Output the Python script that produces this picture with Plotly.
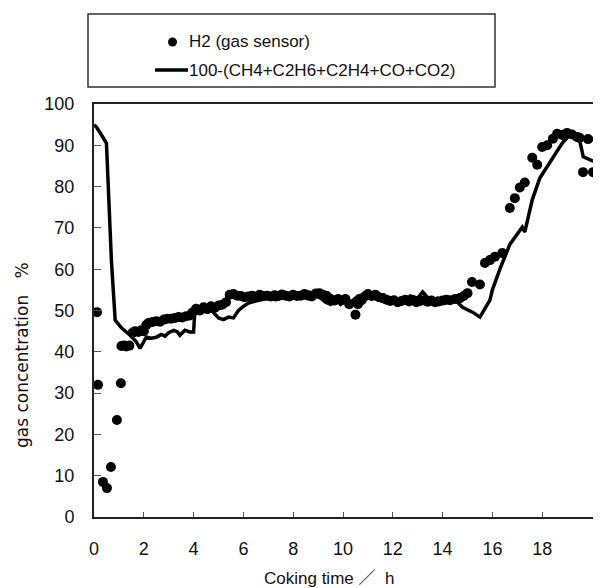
import plotly.graph_objects as go

# H2 gas sensor readings (time h, concentration %)
h2_time = [0.12, 0.16, 0.36, 0.52, 0.68, 0.92, 1.08,
           1.1, 1.2, 1.3, 1.42,
           1.55, 1.65, 1.78, 1.9, 2.0,
           2.1, 2.2, 2.35, 2.5, 2.65, 2.8, 2.95, 3.1, 3.25, 3.4, 3.55, 3.7, 3.85, 3.95,
           4.1, 4.25, 4.4, 4.55, 4.7, 4.85, 5.0, 5.15, 5.3,
           5.45, 5.6, 5.75, 5.9, 6.05, 6.2, 6.35, 6.5, 6.65, 6.8, 6.95, 7.1, 7.25, 7.4,
           7.55, 7.7, 7.85, 8.0, 8.15, 8.3, 8.45, 8.6, 8.75, 8.9, 9.05, 9.2, 9.35, 9.5,
           9.65, 9.8, 9.95, 10.1, 10.25, 10.5, 10.6, 10.75, 10.9, 11.0, 11.15, 11.3,
           11.45, 11.6, 11.75, 11.9, 12.05, 12.2, 12.35, 12.5, 12.65, 12.8, 12.95, 13.1,
           13.25, 13.4, 13.55, 13.7, 13.85, 14.0, 14.15, 14.3, 14.5, 14.7, 14.85, 15.0,
           15.18, 15.5, 15.7, 15.9, 16.1, 16.4, 16.7, 16.9, 17.1, 17.3, 17.6, 17.8,
           18.0, 18.2, 18.43, 18.6, 18.8, 19.0, 19.2, 19.4, 19.5, 19.84, 20.2,
           19.64, 20.04, 20.3]
h2_conc = [49.6, 32.0, 8.5, 7.0, 12.1, 23.5, 32.4,
           41.4, 41.5, 41.3, 41.5,
           44.6, 45.0, 44.8, 45.2, 45.0,
           46.5, 47.0, 47.2, 47.4, 47.3, 47.8, 48.0, 48.0, 48.2, 48.4, 48.3, 48.6, 48.8, 49.5,
           50.4, 50.0, 50.8, 50.3, 51.0, 50.7, 51.2, 51.4, 52.0,
           53.8, 54.0, 53.6, 53.5, 53.2, 53.4, 53.6, 53.3, 53.8, 53.5, 53.6, 53.4, 53.7, 53.5,
           53.9, 53.6, 53.4, 53.8, 53.5, 53.6, 54.0, 53.7, 53.4, 54.1, 54.2, 53.8, 53.5, 52.8,
           52.4, 52.8, 52.5, 52.8, 51.5, 49.0, 51.5, 52.5, 53.5, 54.0, 53.5, 53.8,
           53.2, 53.0, 52.6, 52.3, 52.5, 52.0, 52.3, 52.6, 52.2, 52.5, 52.0, 52.3,
           52.5, 52.1, 52.4, 52.0, 52.2, 52.4, 52.6, 52.5, 52.8, 53.0, 53.5, 54.2,
           56.9, 56.3, 61.5, 62.2, 63.0, 63.9, 74.8, 77.2, 79.8, 81.0, 87.0, 85.3,
           89.6, 90.0, 91.6, 92.8, 92.5, 93.0, 92.6, 92.0, 91.8, 91.5, 91.5,
           83.5, 83.5, 59.8]

# 100-(CH4+C2H6+C2H4+CO+CO2) (time h, concentration %)
calc_time = [0.0, 0.1, 0.35, 0.5, 0.7, 0.85, 1.1, 1.45, 1.7, 1.85, 2.1, 2.3, 2.5, 2.7,
             2.85, 3.0, 3.2, 3.35, 3.45, 3.65, 3.85, 4.0, 4.05, 4.2, 4.4, 4.6, 4.8, 5.0,
             5.2, 5.4, 5.6, 5.8, 6.0, 6.2, 6.5, 6.8, 7.0, 7.3, 7.6, 8.0, 8.3, 8.6, 8.9,
             9.1, 9.3, 9.5, 9.7, 9.9, 10.1, 10.3, 10.6, 10.9, 11.2, 11.5, 11.8, 12.1,
             12.4, 12.7, 13.0, 13.2, 13.5, 13.8, 14.0, 14.2, 14.6, 14.8, 15.2, 15.5,
             15.9, 16.0, 16.3, 16.7, 17.2, 17.3, 17.6, 17.9, 18.3, 18.8, 19.1, 19.5,
             19.65, 19.9, 20.1, 20.36]
calc_conc = [95.0, 94.4, 92.0, 90.5, 62.0, 47.7, 45.8, 44.0, 42.4, 40.8, 43.6, 43.3, 43.5, 44.2,
             43.8, 44.6, 45.2, 44.8, 44.0, 45.2, 44.8, 44.8, 50.1, 50.5, 49.8, 50.6, 49.5, 48.2,
             47.8, 48.4, 48.2, 50.0, 51.0, 51.8, 52.3, 52.8, 53.0, 52.6, 53.2, 53.0, 53.4, 52.8, 53.6,
             53.0, 52.0, 51.5, 52.8, 51.5, 52.5, 52.0, 53.5, 54.0, 53.0, 52.5, 53.0, 52.3,
             52.0, 53.5, 53.0, 54.5, 52.5, 53.0, 52.0, 52.8, 52.0, 50.8, 49.6, 48.4,
             52.5, 55.0, 60.0, 66.0, 70.2, 69.0, 76.8, 82.0, 85.7, 90.5, 92.5, 91.3,
             87.2, 86.6, 86.0, 87.2]

x_ticks = [0, 2, 4, 6, 8, 10, 12, 14, 16, 18]
y_ticks = [0, 10, 20, 30, 40, 50, 60, 70, 80, 90, 100]
legend_names = ["H2 (gas sensor)", "100-(CH4+C2H6+C2H4+CO+CO2)"]

# page body has an 8px margin; compensate so plot lands at window pixels
OFF = 8
PLOT_L, PLOT_R, PLOT_T, PLOT_B = 94, 601, 104, 517   # target window pixels
W = PLOT_R - OFF
H = 588 - OFF
L, R = PLOT_L - OFF, 0
T = PLOT_T - OFF
B = (588 - OFF) - (PLOT_B - OFF)
pw, ph = PLOT_R - PLOT_L, PLOT_B - PLOT_T

fig = go.Figure()
fig.add_trace(go.Scatter(
    x=h2_time, y=h2_conc, mode="markers", name=legend_names[0],
    marker=dict(color="black", size=10), cliponaxis=False))
fig.add_trace(go.Scatter(
    x=calc_time, y=calc_conc, mode="lines", name=legend_names[1],
    line=dict(color="black", width=3.5)))

def px2paper_x(p):
    return (p - PLOT_L) / pw

def py2paper_y(p):
    return (PLOT_B - p) / ph

# legend box drawn manually
fig.add_shape(type="rect", xref="paper", yref="paper",
              x0=px2paper_x(88), x1=px2paper_x(495),
              y0=py2paper_y(87), y1=py2paper_y(14),
              line=dict(color="#333", width=1.5), fillcolor="white", layer="below")
fig.add_shape(type="circle", xref="paper", yref="paper",
              x0=px2paper_x(168), x1=px2paper_x(177),
              y0=py2paper_y(46.5), y1=py2paper_y(37.5),
              line=dict(color="black", width=0), fillcolor="black")
fig.add_shape(type="line", xref="paper", yref="paper",
              x0=px2paper_x(155), x1=px2paper_x(188),
              y0=py2paper_y(70), y1=py2paper_y(70),
              line=dict(color="black", width=3.5))
fig.add_annotation(text=legend_names[0], xref="paper", yref="paper",
                   x=px2paper_x(187), y=py2paper_y(42), showarrow=False,
                   xanchor="left", yanchor="middle",
                   font=dict(size=17, color="#111", family="Liberation Sans"))
fig.add_annotation(text=legend_names[1], xref="paper", yref="paper",
                   x=px2paper_x(187), y=py2paper_y(70), showarrow=False,
                   xanchor="left", yanchor="middle",
                   font=dict(size=17, color="#111", family="Liberation Sans"))

fig.add_annotation(text="Coking time ／  h", xref="paper", yref="paper",
                   x=px2paper_x(329), y=py2paper_y(578), showarrow=False,
                   xanchor="center", yanchor="middle",
                   font=dict(size=17, color="#111", family="Liberation Sans, Noto Sans CJK JP"))
fig.add_annotation(text="gas concentration   %", xref="paper", yref="paper",
                   x=px2paper_x(22), y=py2paper_y(355), showarrow=False, textangle=-90,
                   xanchor="center", yanchor="middle",
                   font=dict(size=17, color="#111", family="DejaVu Sans"))

fig.update_layout(
    width=W, height=H, autosize=False,
    margin=dict(l=L, r=R, t=T, b=B, pad=0),
    paper_bgcolor="white", plot_bgcolor="white",
    showlegend=False,
    xaxis=dict(range=[0, pw / 24.9], tickvals=x_ticks, ticktext=[str(v) for v in x_ticks],
               ticks="inside", ticklen=5, tickcolor="#555", tickwidth=1,
               showline=True, linecolor="#222", linewidth=2, mirror=True,
               showgrid=False, zeroline=False, ticklabelstandoff=14, automargin=False,
               tickfont=dict(size=18, color="#111", family="Liberation Sans")),
    yaxis=dict(range=[0, 100], tickvals=y_ticks, ticktext=[str(v) for v in y_ticks],
               ticks="inside", ticklen=7, tickcolor="#555", tickwidth=1,
               showline=True, linecolor="#222", linewidth=2,
               showgrid=False, zeroline=False, ticklabelstandoff=14, automargin=False,
               tickfont=dict(size=18, color="#111", family="Liberation Sans")),
)

fig.write_html("out.html")
